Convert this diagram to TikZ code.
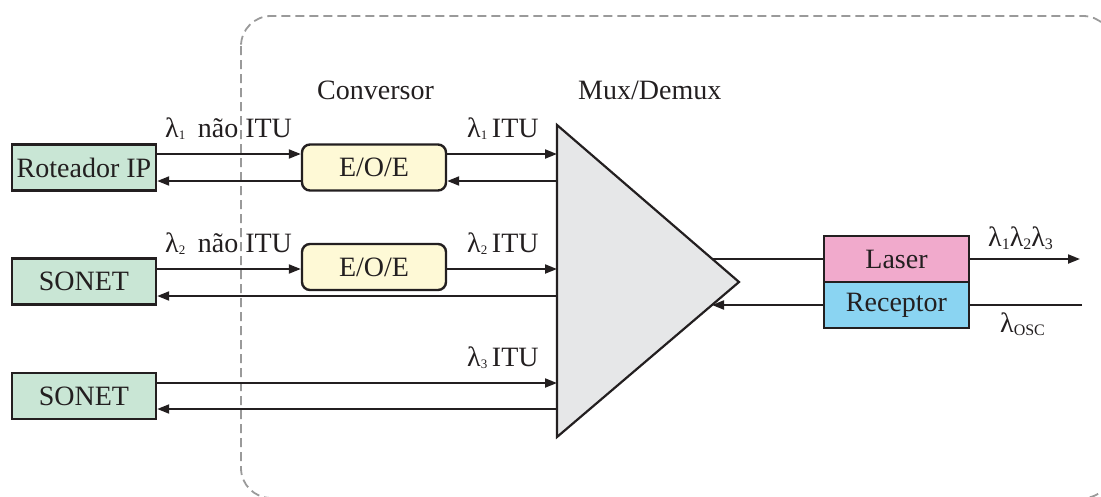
\documentclass[tikz,border=0pt]{standalone}
\usepackage{fontspec}
\setmainfont{Liberation Serif}
\usetikzlibrary{arrows.meta}
\definecolor{ink}{HTML}{231F20}
\definecolor{boxgreen}{HTML}{C9E6D5}
\definecolor{boxyellow}{HTML}{FEF9D6}
\definecolor{muxgray}{HTML}{E6E7E8}
\definecolor{laserpink}{HTML}{F1AACC}
\definecolor{recblue}{HTML}{8AD4F2}
\definecolor{dashgray}{HTML}{9A9A9A}
\newcommand{\lam}[1]{λ\raisebox{-0.2ex}{\fontsize{13}{13}\selectfont #1}}
\newcommand{\lamb}[1]{λ\raisebox{-0.25ex}{\fontsize{16}{16}\selectfont #1}}
\tikzset{
  every node/.style={font=\fontsize{28}{33}\selectfont, text=ink},
  gbox/.style={draw=ink, line width=2.4pt, fill=boxgreen, minimum width=144pt, minimum height=46pt, inner sep=0pt},
  ybox/.style={draw=ink, line width=2.4pt, fill=boxyellow, rounded corners=8pt, minimum width=144pt, minimum height=46pt, inner sep=0pt},
  txbox/.style={draw=ink, line width=2.4pt, minimum width=145pt, minimum height=46pt, inner sep=0pt},
  conn/.style={draw=ink, line width=2pt},
  arr/.style={conn, -{Triangle[length=12pt,width=9pt]}},
  lbl/.style={anchor=base west, inner sep=0pt},
}
\begin{document}
\begin{tikzpicture}[x=1pt,y=-1pt]
\useasboundingbox (0,0) rectangle (1101,496);
\begin{scope}
\clip (0,0) rectangle (1101,496);
\draw[dashgray, line width=1.8pt, dash pattern=on 9pt off 5pt, rounded corners=30pt] (241,16) rectangle (1113,498);
\end{scope}

% Mux/Demux triangle
\coordinate (mxTop) at (557,125);
\coordinate (mxTip) at (739,282);
\coordinate (mxBot) at (557,437);
\filldraw[fill=muxgray, draw=ink, line width=2.2pt, line join=miter] (mxTop) -- (mxTip) -- (mxBot) -- cycle;
\coordinate (in1) at (557,154);
\coordinate (out1) at (557,181);
\coordinate (in2) at (557,269);
\coordinate (out2) at (557,296);
\coordinate (in3) at (557,383);
\coordinate (out3) at (557,409);
\coordinate (mxR1) at (712,259);
\coordinate (mxR2) at (712,305);
\coordinate (outEnd) at (1080,259);
\coordinate (oscEnd) at (1082,305);

% boxes
\node[gbox] (rot) at (84,167.5) {Roteador IP};
\node[gbox] (son2) at (84,281.5) {SONET};
\node[gbox] (son3) at (84,396) {SONET};
\node[ybox] (eoe1) at (374,167.5) {E/O/E};
\node[ybox] (eoe2) at (374,267) {E/O/E};
\node[txbox, fill=laserpink] (laser) at (896.5,259) {Laser};
\node[txbox, fill=recblue] (rec) at (896.5,305) {Receptor};

% row 1
\draw[arr] ([yshift=13.5pt]rot.east) -- ([yshift=13.5pt]eoe1.west);
\draw[arr] ([yshift=-13.5pt]eoe1.west) -- ([yshift=-13.5pt]rot.east);
\draw[arr] ([yshift=13.5pt]eoe1.east) -- (in1);
\draw[arr] (out1) -- ([yshift=-13.5pt]eoe1.east);
% row 2
\draw[arr] ([yshift=12.5pt]son2.east) -- ([yshift=-2pt]eoe2.west);
\draw[arr] ([yshift=-2pt]eoe2.east) -- (in2);
\draw[arr] (out2) -- ([yshift=-14.5pt]son2.east);
% row 3
\draw[arr] ([yshift=13pt]son3.east) -- (in3);
\draw[arr] (out3) -- ([yshift=-13pt]son3.east);
% right side
\draw[conn] (mxR1) -- (laser.west);
\draw[arr] (laser.east) -- (outEnd);
\draw[conn] (oscEnd) -- (rec.east);
\draw[arr] (rec.west) -- (mxR2);

% labels
\node[lbl] (lConv) at (317,99) {Conversor};
\node[lbl] (lMux) at (578,99) {Mux/Demux};
\node[lbl] (l1a) at (165,137) {\lam{1}\hspace{0.45em}não ITU};
\node[lbl] (l1b) at (467,137) {\lam{1}\,ITU};
\node[lbl] (l2a) at (165,252) {\lam{2}\hspace{0.45em}não ITU};
\node[lbl] (l2b) at (467,252) {\lam{2}\,ITU};
\node[lbl] (l3b) at (467,366) {\lam{3}\,ITU};
\node[lbl] (lOut) at (988,246) {\lamb{1}\lamb{2}\lamb{3}};
\node[lbl] (lOsc) at (1000,332) {λ\raisebox{-0.25ex}{\fontsize{16}{16}\selectfont OSC}};
\end{tikzpicture}
\end{document}
